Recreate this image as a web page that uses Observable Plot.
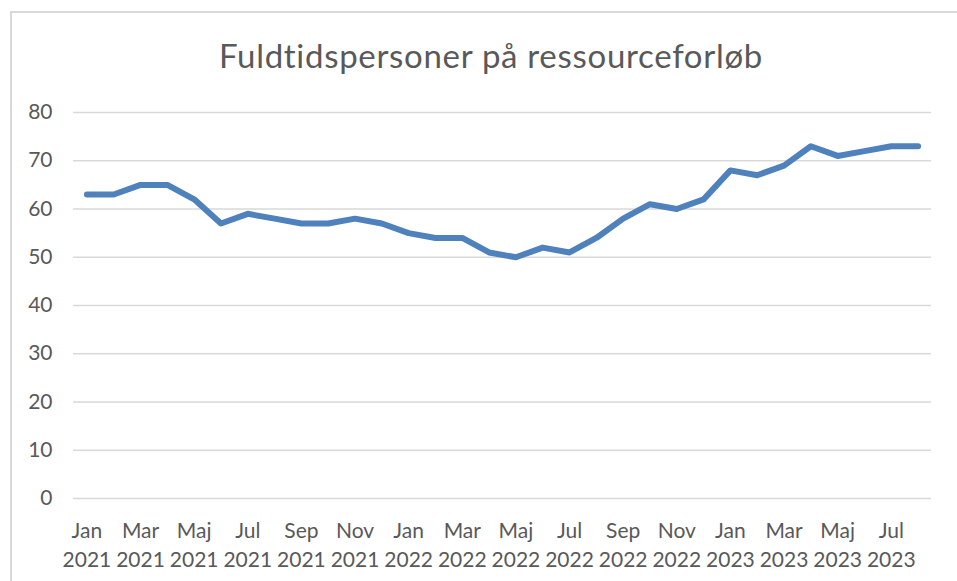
<!DOCTYPE html>
<html>
<head>
<meta charset="utf-8">
<script src="https://cdn.jsdelivr.net/npm/d3@7"></script>
<script src="https://cdn.jsdelivr.net/npm/@observablehq/plot@0.6"></script>
<style>
html, body { margin: 0; padding: 0; background: #fff; overflow: hidden; width: 957px; height: 581px; }
#frame { position: absolute; left: 10px; top: 11px; width: 1000px; height: 700px; border: 2px solid #d9d9d9; box-sizing: border-box; }
#title { position: absolute; left: 0; width: 982px; top: 36px; text-align: center; font-family: Lato, sans-serif; font-size: 33px; line-height: 1.2; letter-spacing: 0.7px; color: #595959; }
#chart { position: absolute; left: 0; top: 90px; }
</style>
</head>
<body>
<div id="frame"></div>
<div id="title">Fuldtidspersoner på ressourceforløb</div>
<div id="chart"></div>
<script>
const periods = [
  "Jan 2021","Feb 2021","Mar 2021","Apr 2021","Maj 2021","Jun 2021","Jul 2021","Aug 2021","Sep 2021","Okt 2021","Nov 2021","Dec 2021",
  "Jan 2022","Feb 2022","Mar 2022","Apr 2022","Maj 2022","Jun 2022","Jul 2022","Aug 2022","Sep 2022","Okt 2022","Nov 2022","Dec 2022",
  "Jan 2023","Feb 2023","Mar 2023","Apr 2023","Maj 2023","Jun 2023","Jul 2023","Aug 2023"
];
const values = [
  63, 63, 65, 65, 62, 57, 59, 58, 57, 57, 58, 57,
  55, 54, 54, 51, 50, 52, 51, 54, 58, 61, 60, 62,
  68, 67, 69, 73, 71, 72, 73, 73
];
const tickPeriods = [
  "Jan 2021","Mar 2021","Maj 2021","Jul 2021","Sep 2021","Nov 2021",
  "Jan 2022","Mar 2022","Maj 2022","Jul 2022","Sep 2022","Nov 2022",
  "Jan 2023","Mar 2023","Maj 2023","Jul 2023"
];
const yTicks = [0, 10, 20, 30, 40, 50, 60, 70, 80];

const data = periods.map((p, i) => ({period: p, value: values[i]}));

const chart = Plot.plot({
  width: 957,
  height: 491,
  marginTop: 22,
  marginBottom: 83,
  marginLeft: 73,
  marginRight: 26,
  style: {fontFamily: "Lato, sans-serif", fontSize: "21px", color: "#595959", background: "transparent"},
  x: {type: "band", domain: periods, padding: 0, round: false, label: null},
  y: {domain: [0, 80], label: null},
  marks: [
    Plot.gridY(yTicks, {stroke: "#d9d9d9", strokeOpacity: 1, strokeWidth: 1.5}),
    Plot.axisY(yTicks, {tickSize: 0, tickPadding: 21, label: null, fill: "#595959"}),
    Plot.axisX(tickPeriods, {tickSize: 0, tickPadding: 25, label: null, fill: "#595959", tickFormat: d => d.split(" ")[0]}),
    Plot.axisX(tickPeriods, {tickSize: 0, tickPadding: 54, label: null, fill: "#595959", tickFormat: d => d.split(" ")[1]}),
    Plot.line(data, {x: "period", y: "value", stroke: "#4f81bd", strokeWidth: 6, strokeLinecap: "round", strokeLinejoin: "round"})
  ]
});
document.getElementById("chart").appendChild(chart);
</script>
</body>
</html>
